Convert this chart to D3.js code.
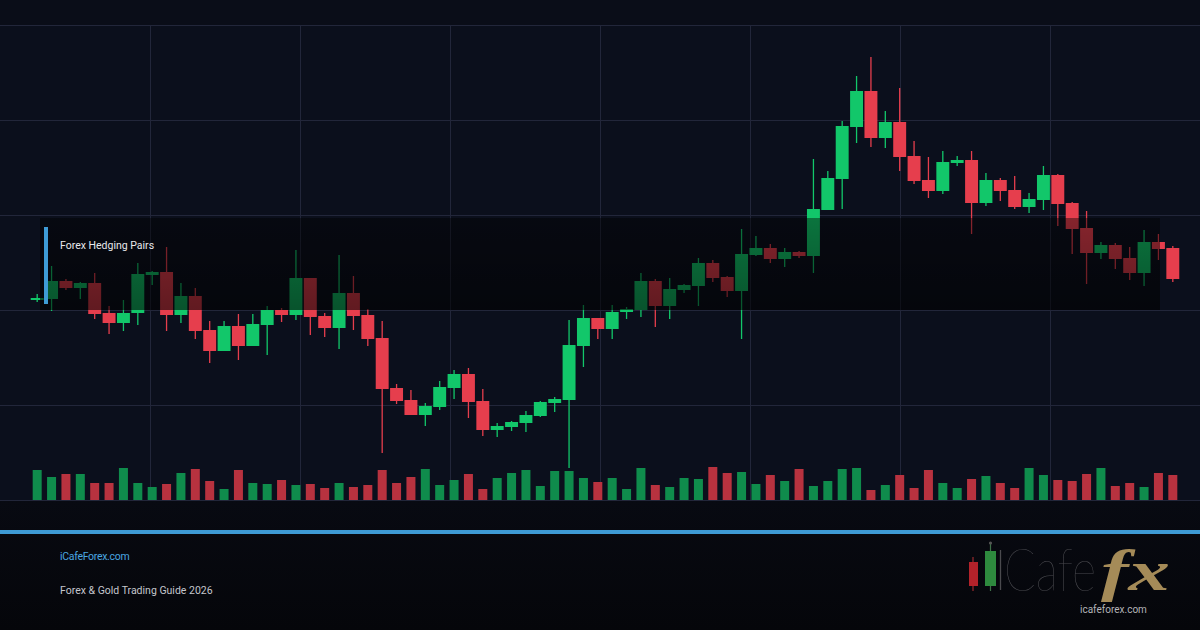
<!DOCTYPE html>
<html>
<head>
<meta charset="utf-8">
<script src="https://cdn.jsdelivr.net/npm/d3@7"></script>
<style>
html, body { margin: 0; padding: 0; background: #0a0d18; overflow: hidden; }
</style>
</head>
<body>
<svg id="chart" width="1200" height="630"></svg>
<script>
// XAU/USD style session, 80 bars
var opens = [2300,2301,2319,2312,2317,2287,2277,2287,2325,2328, 2285,2304,2270,2249,2274,2254,2275,2290,2285,2322,
	2284,2272,2307,2285,2262,2212,2200,2185,2193,2212, 2226,2199,2170,2173,2177,2184,2197,2200,2254,2282,
	2271,2288,2290,2319,2294,2310,2314,2337,2323,2309, 2345,2352,2341,2348,2344,2390,2421,2473,2509,2462,
	2478,2444,2420,2409,2437,2440,2397,2420,2410,2393, 2400,2425,2397,2372,2347,2355,2342,2327,2358,2352];
var closes = [2302,2319,2312,2317,2286,2277,2287,2326,2328,2285, 2304,2269,2249,2274,2254,2276,2290,2285,2322,2283,
	2272,2307,2284,2261,2211,2199,2185,2194,2213,2226, 2198,2170,2174,2178,2185,2198,2201,2255,2282,2271,
	2288,2291,2319,2294,2311,2315,2337,2322,2309,2346, 2352,2341,2348,2344,2391,2422,2474,2509,2462,2478,
	2443,2419,2409,2438,2440,2397,2420,2409,2393,2401, 2425,2396,2371,2347,2355,2341,2327,2358,2351,2321];
var highs = [2306,2334,2321,2318,2327,2294,2300,2337,2329,2353, 2317,2312,2279,2279,2286,2286,2294,2292,2350,2322,
	2287,2345,2324,2291,2279,2216,2210,2197,2219,2230, 2232,2211,2177,2179,2189,2199,2203,2280,2295,2282,
	2295,2293,2327,2321,2322,2316,2342,2340,2324,2371, 2364,2356,2352,2349,2441,2429,2479,2524,2543,2489,
	2512,2459,2443,2449,2444,2449,2427,2422,2424,2407, 2434,2426,2398,2389,2358,2357,2353,2370,2366,2354];
var lows = [2298,2289,2310,2301,2281,2266,2269,2275,2315,2269, 2277,2261,2237,2249,2240,2254,2245,2278,2280,2265,
	2263,2251,2270,2254,2147,2196,2185,2174,2190,2201, 2182,2164,2163,2169,2168,2183,2188,2132,2233,2261,
	2261,2281,2283,2273,2281,2307,2294,2318,2303,2261, 2344,2337,2333,2342,2327,2390,2391,2457,2453,2452,
	2429,2416,2402,2406,2434,2366,2394,2399,2391,2387, 2390,2374,2346,2316,2341,2331,2320,2314,2340,2318];
var volumes = [3000,2300,2600,2600,1700,1700,3200,1700,1300,1600, 2700,3100,1900,1100,3000,1700,1600,2000,1500,1600,
	1200,1700,1300,1500,3000,1700,2300,3100,1500,2000, 2600,1100,2200,2700,3000,1400,2900,2900,2200,1800,
	2200,1100,3200,1500,1300,2200,2100,3300,2700,2800, 1600,2500,1900,3100,1400,1900,3100,3200,1000,1500,
	2500,1200,3000,1700,1200,2100,2400,1700,1200,3200, 2500,2000,1900,2600,3200,1400,1700,1300,2700,2500];
var priceGrid = [2100, 2195, 2290, 2385, 2480, 2575];
var timeGrid = [1, 2, 3, 4, 5, 6, 7];
var highlightLabel = "Forex Hedging Pairs";
var siteLabel = "iCafeForex.com";
var guideLabel = "Forex & Gold Trading Guide 2026";

var GREEN = "#12c76a", RED = "#e63e4d";
var VGREEN = "#0f8c4c", VRED = "#b8323f";

var svg = d3.select("#chart");
var defs = svg.append("defs");

var bars = d3.range(opens.length).map(function(i) {
	return { i: i, o: opens[i], c: closes[i], h: highs[i], l: lows[i], v: volumes[i] };
});

var x = d3.scaleBand()
			.domain(d3.range(bars.length))
			.range([30, 1180])
			.paddingInner(0.1)
			.paddingOuter(0.05);
var y = d3.scaleLinear()
			.domain([2100, 2600])
			.range([500, 0]);
var yVol = d3.scaleLinear()
			.domain([0, 4000])
			.range([0, 40]);
var xGrid = d3.scaleLinear()
			.domain([0, 8])
			.range([0, 1200]);

// backgrounds
svg.append("rect").attr("width", 1200).attr("height", 630).attr("fill", "#0a0d18");
svg.append("rect").attr("x", 0).attr("y", 25).attr("width", 1200).attr("height", 475).attr("fill", "#0b0f1c");

var footGrad = defs.append("linearGradient").attr("id", "footGrad")
	.attr("x1", 0).attr("y1", 0).attr("x2", 0).attr("y2", 1);
footGrad.append("stop").attr("offset", "0%").attr("stop-color", "#080a12");
footGrad.append("stop").attr("offset", "100%").attr("stop-color", "#05060a");
svg.append("rect").attr("x", 0).attr("y", 500).attr("width", 1200).attr("height", 130).attr("fill", "url(#footGrad)");

// grid
svg.append("g").selectAll("line").data(priceGrid).enter()
	.append("line")
		.attr("x1", 0).attr("x2", 1200)
		.attr("y1", function(d) { return y(d) + 0.5; })
		.attr("y2", function(d) { return y(d) + 0.5; })
		.style("stroke", "#22263a")
		.style("stroke-width", 1);
svg.append("g").selectAll("line").data(timeGrid).enter()
	.append("line")
		.attr("x1", function(d) { return xGrid(d) + 0.5; })
		.attr("x2", function(d) { return xGrid(d) + 0.5; })
		.attr("y1", y(2575)).attr("y2", y(2100))
		.style("stroke", "#22263a")
		.style("stroke-width", 1);

// volume
svg.append("g").selectAll("rect").data(bars).enter()
	.append("rect")
		.attr("x", function(d) { return x(d.i) + x.bandwidth() / 2 - 4.5; })
		.attr("y", function(d) { return y(2100) - yVol(d.v); })
		.attr("width", 9)
		.attr("height", function(d) { return yVol(d.v); })
		.attr("fill", function(d) { return d.c >= d.o ? VGREEN : VRED; });

// candles
var candle = svg.append("g").selectAll("g").data(bars).enter().append("g");
candle.append("line")
	.attr("x1", function(d) { return x(d.i) + x.bandwidth() / 2; })
	.attr("x2", function(d) { return x(d.i) + x.bandwidth() / 2; })
	.attr("y1", function(d) { return y(d.h); })
	.attr("y2", function(d) { return y(d.l); })
	.style("stroke", function(d) { return d.c >= d.o ? GREEN : RED; })
	.style("stroke-width", 1.3);
candle.append("rect")
	.attr("x", function(d) { return x(d.i); })
	.attr("y", function(d) { return y(Math.max(d.o, d.c)); })
	.attr("width", x.bandwidth())
	.attr("height", function(d) { return Math.max(2, Math.abs(y(d.o) - y(d.c))); })
	.attr("fill", function(d) { return d.c >= d.o ? GREEN : RED; });

// highlight band over the hedging range
var shade = defs.append("linearGradient").attr("id", "shade")
	.attr("x1", 0).attr("y1", 0).attr("x2", 0).attr("y2", 1);
shade.append("stop").attr("offset", "0%").attr("stop-color", "#000").attr("stop-opacity", 0.42);
shade.append("stop").attr("offset", "100%").attr("stop-color", "#000").attr("stop-opacity", 0.58);
svg.append("rect")
	.attr("x", 40).attr("y", 218)
	.attr("width", 1120).attr("height", 92)
	.attr("fill", "url(#shade)");
svg.append("rect")
	.attr("x", 44).attr("y", 227)
	.attr("width", 4).attr("height", 77)
	.attr("fill", "#3e9bd5");
svg.append("text")
	.attr("x", 60).attr("y", 249)
	.style("font-family", "Roboto, sans-serif")
	.style("font-size", "10.5px")
	.style("fill", "#e8e8ec")
	.text(highlightLabel);

// footer
svg.append("rect").attr("x", 0).attr("y", 530).attr("width", 1200).attr("height", 4).attr("fill", "#3e9bd5");
svg.append("text")
	.attr("x", 60).attr("y", 560)
	.style("font-family", "Roboto, sans-serif")
	.style("font-size", "10.5px")
	.style("letter-spacing", "-0.3px")
	.style("fill", "#4aa6e0")
	.text(siteLabel);
svg.append("text")
	.attr("x", 60).attr("y", 594)
	.style("font-family", "Roboto, sans-serif")
	.style("font-size", "10.5px")
	.style("fill", "#c4c6cc")
	.text(guideLabel);

// logo
var logo = svg.append("g");
logo.append("line").attr("x1", 973).attr("x2", 973).attr("y1", 557).attr("y2", 591)
	.style("stroke", "#9a2a2e").style("stroke-width", 1.2);
logo.append("rect").attr("x", 969).attr("y", 562).attr("width", 9).attr("height", 24).attr("fill", "#b3222a");
logo.append("line").attr("x1", 990.5).attr("x2", 990.5).attr("y1", 544).attr("y2", 591)
	.style("stroke", "#3e6f48").style("stroke-width", 1.2);
logo.append("circle").attr("cx", 990.5).attr("cy", 543).attr("r", 1.6).attr("fill", "#555");
logo.append("rect").attr("x", 985).attr("y", 551).attr("width", 11).attr("height", 35).attr("fill", "#2e8a3e");
logo.append("line").attr("x1", 1000.5).attr("x2", 1000.5).attr("y1", 550).attr("y2", 590)
	.style("stroke", "#4a4a4e").style("stroke-width", 1.3);
logo.append("text")
	.attr("transform", "translate(1004,591) scale(1,1.25)")
	.attr("textLength", 92).attr("lengthAdjust", "spacingAndGlyphs")
	.style("font-family", "Lato, sans-serif")
	.style("font-weight", 100)
	.style("font-size", "48px")
	.style("fill", "#4b4b50")
	.text("Cafe");
logo.append("text")
	.attr("x", 1101).attr("y", 590)
	.attr("textLength", 69).attr("lengthAdjust", "spacingAndGlyphs")
	.style("font-family", "'Liberation Serif', serif")
	.style("font-style", "italic")
	.style("font-weight", "bold")
	.style("font-size", "56px")
	.style("fill", "#a58b58")
	.text("fx");
logo.append("text")
	.attr("x", 1080).attr("y", 613)
	.style("font-family", "Roboto, sans-serif")
	.style("font-size", "10px")
	.style("fill", "#b4b4b8")
	.text("icafeforex.com");
</script>
</body>
</html>
